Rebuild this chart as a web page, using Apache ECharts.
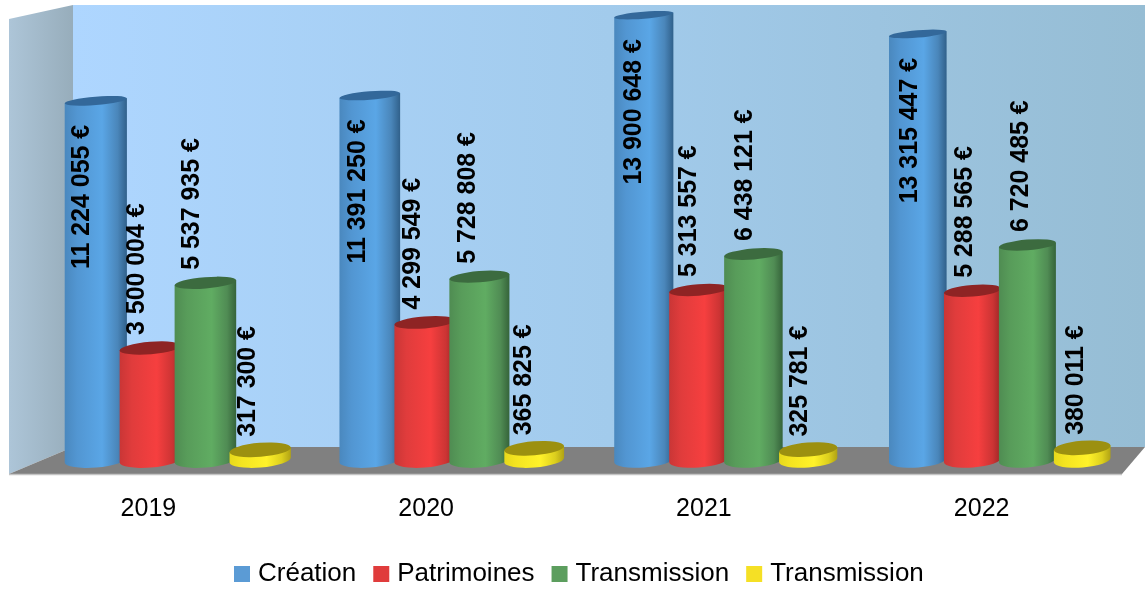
<!DOCTYPE html>
<html>
<head>
<meta charset="utf-8">
<style>
html,body{margin:0;padding:0;background:#fff;}
#main{width:1145px;height:589px;}
</style>
<script src="https://cdn.jsdelivr.net/npm/echarts@6/dist/echarts.min.js"></script>
</head>
<body>
<div id="main"></div>
<script>
var years = ['2019', '2020', '2021', '2022'];
var seriesNames = ['Création', 'Patrimoines', 'Transmission', 'Transmission '];
var creation = [11224055, 11391250, 13900648, 13315447];
var patrimoines = [3500004, 4299549, 5313557, 5288565];
var transmission = [5537935, 5728808, 6438121, 6720485];
var transmission2 = [317300, 365825, 325781, 380011];

var allValues = [creation, patrimoines, transmission, transmission2];

// shading across the cylinder + top cap + legend colour
var palette = [
	{ body: ['#4a88be', '#5296d2', '#5aa6e6', '#4a86ba', '#30608a'], cap: '#33689a', legend: '#5b9bd5' },
	{ body: ['#c93636', '#e03c3c', '#f63f3f', '#cc3434', '#992626'], cap: '#8e2424', legend: '#e03c3c' },
	{ body: ['#4f8c52', '#589c5a', '#60ac62', '#508c54', '#35633a'], cap: '#3c6b3f', legend: '#5c9e5e' },
	{ body: ['#e6d81c', '#f4e420', '#fff22a', '#dccf1e', '#b0a214'], cap: '#9c9010', legend: '#f5e025' }
];

function fmt(v) {
	return String(v).replace(/\B(?=(\d{3})+$)/g, ' ') + ' €';
}

function cylinder(seriesIndex) {
	return function (params, api) {
		var cat = api.value(0), val = api.value(1);
		var band = api.size([1, 0])[0];
		var top = api.coord([cat, val]);
		var zero = api.coord([cat, 0]);
		var cx = top[0] + (seriesIndex - 1.5) * band * 0.2;
		// bars get a little narrower to the right, the picture has some perspective
		var rx = band * 0.1135 * (1 - (cx - 96) * 0.00009);
		var tilt = 4.6;
		var d = rx * Math.sin(tilt * Math.PI / 180);
		var l = cx - rx, r = cx + rx;
		// the caps open up the lower they sit
		var ryTop = 3.5 + (top[1] - 15) * 0.008;
		var ryBot = 7.5;
		var color = palette[seriesIndex];

		var bodyPath = 'M' + l + ' ' + (top[1] + d)
			+ 'L' + l + ' ' + (zero[1] + d)
			+ 'A' + rx + ' ' + ryBot + ' ' + (-tilt) + ' 0 0 ' + r + ' ' + (zero[1] - d)
			+ 'L' + r + ' ' + (top[1] - d) + 'Z';
		var capPath = 'M' + l + ' ' + (top[1] + d)
			+ 'A' + rx + ' ' + ryTop + ' ' + (-tilt) + ' 0 0 ' + r + ' ' + (top[1] - d)
			+ 'A' + rx + ' ' + ryTop + ' ' + (-tilt) + ' 0 0 ' + l + ' ' + (top[1] + d) + 'Z';

		var inside = seriesIndex === 0;
		return {
			type: 'group',
			children: [{
				type: 'path',
				shape: { pathData: bodyPath },
				z2: 10 + seriesIndex,
				style: {
					fill: new echarts.graphic.LinearGradient(0, 0, 1, 0, [
						{ offset: 0, color: color.body[0] },
						{ offset: 0.2, color: color.body[1] },
						{ offset: 0.6, color: color.body[2] },
						{ offset: 0.85, color: color.body[3] },
						{ offset: 1, color: color.body[4] }
					])
				}
			}, {
				type: 'path',
				shape: { pathData: capPath },
				z2: 10 + seriesIndex,
				style: { fill: color.cap }
			}, {
				type: 'text',
				x: cx - 14 + (cx - 96) * 0.0075,
				y: inside ? top[1] + 24 : top[1] - 13,
				rotation: Math.PI / 2,
				scaleX: 0.958,
				z2: 100,
				style: {
					text: fmt(val),
					font: 'bold 26px "Liberation Sans"',
					fill: '#000',
					align: inside ? 'right' : 'left',
					verticalAlign: 'middle'
				}
			}]
		};
	};
}

var series = seriesNames.map(function (name, i) {
	return {
		type: 'custom',
		name: name,
		xAxisIndex: 1,
		yAxisIndex: 1,
		clip: false,
		silent: true,
		encode: { x: 0, y: 1 },
		itemStyle: { color: palette[i].legend },
		renderItem: cylinder(i),
		data: allValues[i].map(function (v, k) { return [k, v]; })
	};
});

var myChart = echarts.init(document.getElementById('main'), null, { renderer: 'canvas' });
myChart.setOption({
	animation: false,
	backgroundColor: '#fff',
	textStyle: { fontFamily: '"Liberation Sans"' },
	// grid 0 is the front edge of the floor (labels), grid 1 is the plane of the bars
	grid: [
		{ left: 9.5, width: 1111, top: 12, height: 462 },
		{ left: 41, width: 1096, top: 12, height: 448 }
	],
	xAxis: [{
		type: 'category',
		gridIndex: 0,
		data: years,
		axisLine: { show: false },
		axisTick: { show: false },
		axisLabel: { color: '#000', fontSize: 25, margin: 23 }
	}, {
		type: 'category',
		gridIndex: 1,
		data: years,
		show: false
	}],
	yAxis: [{
		type: 'value',
		gridIndex: 0,
		show: false
	}, {
		type: 'value',
		gridIndex: 1,
		min: 0,
		max: 14000000,
		show: false
	}],
	legend: {
		left: 234,
		top: 561,
		itemWidth: 16,
		itemHeight: 16,
		itemGap: 17,
		padding: 0,
		selectedMode: false,
		icon: 'rect',
		data: seriesNames,
		textStyle: { color: '#000', fontSize: 26, padding: [0, 0, 0, 3] }
	},
	graphic: [{
		type: 'polygon', z: -1,
		shape: { points: [[73, 5], [1145, 5], [1145, 447], [73, 447]] },
		style: {
			fill: new echarts.graphic.LinearGradient(0, 0, 1, 0, [
				{ offset: 0, color: '#aed6ff' },
				{ offset: 0.5, color: '#a2cbec' },
				{ offset: 1, color: '#96bdd4' }
			])
		}
	}, {
		type: 'polygon', z: -1,
		shape: { points: [[9, 19], [73, 5], [73, 447], [9, 474]] },
		style: {
			fill: new echarts.graphic.LinearGradient(0, 0, 1, 0, [
				{ offset: 0, color: '#adc5d8' },
				{ offset: 1, color: '#97adbb' }
			])
		}
	}, {
		type: 'polygon', z: -1,
		shape: { points: [[9, 474], [73, 447], [1145, 447], [1122, 474]] },
		style: { fill: '#808080' }
	}, {
		type: 'line', z: -1,
		shape: { x1: 9, y1: 474.5, x2: 1122, y2: 474.5 },
		style: { stroke: '#c4c4c4', lineWidth: 1.5 }
	}],
	series: series
});
</script>
</body>
</html>
